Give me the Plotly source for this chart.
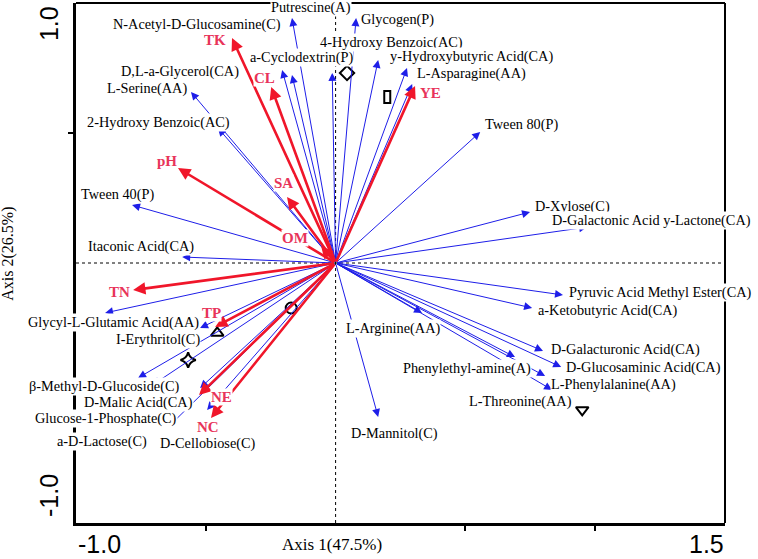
import plotly.graph_objects as go

# ---------------- data ----------------
# environmental factors (red vectors)
env_names = ["TK", "CL", "pH", "SA", "OM", "YE", "TN", "TP", "NE", "NC"]
env_x = [-0.399, -0.248, -0.607, -0.187, -0.056, 0.306, -0.780, -0.464, -0.526, -0.480]
env_y = [0.865, 0.677, 0.365, 0.254, 0.065, 0.681, -0.104, -0.246, -0.508, -0.596]

# carbon sources (blue vectors)
sp_names = [
    "Putrescine(A)", "Glycogen(P)", "N-Acetyl-D-Glucosamine(C)", "D,L-a-Glycerol(CA)",
    "a-Cyclodextrin(P)", "4-Hydroxy Benzoic(AC)", "y-Hydroxybutyric Acid(CA)", "L-Asparagine(AA)",
    "L-Serine(AA)", "2-Hydroxy Benzoic(AC)", "Tween 40(P)", "Itaconic Acid(CA)",
    "Tween 80(P)", "D-Xylose(C)", "D-Galactonic Acid y-Lactone(CA)", "Pyruvic Acid Methyl Ester(CA)",
    "a-Ketobutyric Acid(CA)", "D-Galacturonic Acid(CA)", "D-Glucosaminic Acid(CA)", "L-Phenylalanine(AA)",
    "L-Threonine(AA)", "Phenylethyl-amine(A)", "L-Arginine(AA)", "D-Mannitol(C)",
    "Glycyl-L-Glutamic Acid(AA)", "I-Erythritol(C)", "β-Methyl-D-Glucoside(C)", "D-Malic Acid(CA)",
    "Glucose-1-Phosphate(C)", "a-D-Lactose(C)", "D-Cellobiose(C)",
]
sp_x = [-0.168, 0.079, -0.206, -0.168, -0.013, 0.164, 0.275, 0.295,
        -0.557, -0.453, -0.784, -0.591, 0.557, 0.749, 0.969, 0.876,
        0.757, 0.799, 0.869, 0.807, 0.834, 0.691, 0.333, 0.164,
        -0.888, -0.522, -0.761, -0.522, -0.705, -0.645, -0.495]
sp_y = [0.942, 0.942, 0.742, 0.723, 0.731, 0.781, 0.750, 0.688,
        0.658, 0.519, 0.223, 0.023, 0.504, 0.196, 0.138, -0.123,
        -0.173, -0.338, -0.400, -0.435, -0.488, -0.362, -0.192, -0.592,
        -0.192, -0.250, -0.442, -0.481, -0.469, -0.631, -0.565]

# sample sites
site_x = [0.044, 0.950, -0.171, -0.456, -0.568]
site_y = [0.731, -0.565, -0.173, -0.269, -0.373]
site_symbols = ["diamond-open", "triangle-down-open", "circle-open", "triangle-up-open", "star-diamond-open"]
rect_site_x = [0.199]
rect_site_y = [0.638]

# label placements (data units)
env_lab_x = [-0.464, -0.272, -0.649, -0.202, -0.156, 0.364, -0.834, -0.479, -0.441, -0.491]
env_lab_y = [0.858, 0.712, 0.392, 0.308, 0.096, 0.654, -0.112, -0.192, -0.515, -0.631]
sp_lab_x = [-0.094, 0.237, -0.534, -0.599, -0.133, 0.214, 0.522, 0.522,
            -0.726, -0.684, -0.842, -0.749, 0.715, 0.911, 1.215, 1.250,
            1.050, 1.115, 1.185, 1.069, 0.711, 0.507, 0.221, 0.225,
            -0.857, -0.684, -0.892, -0.761, -0.884, -0.899, -0.491]
sp_lab_y = [0.981, 0.938, 0.919, 0.738, 0.792, 0.850, 0.796, 0.727,
            0.673, 0.542, 0.262, 0.062, 0.531, 0.219, 0.165, -0.115,
            -0.181, -0.333, -0.400, -0.468, -0.531, -0.404, -0.250, -0.654,
            -0.227, -0.296, -0.475, -0.535, -0.598, -0.688, -0.696]

x_title = "Axis 1(47.5%)"
y_title = "Axis 2(26.5%)"

# ---------------- styles ----------------
BLUE = "rgb(30,30,232)"
RED = "rgb(240,22,42)"
RED_TXT = "rgb(232,52,90)"
SERIF = "Liberation Serif"
SANS = "Liberation Sans"

fig = go.Figure()

fig.add_trace(go.Scatter(
    x=site_x, y=site_y, mode="markers",
    marker=dict(symbol=site_symbols, size=11, color="black",
                line=dict(color="black", width=2)),
    hoverinfo="skip", showlegend=False, cliponaxis=False,
))

ann = []
# blue arrows
for x, y in zip(sp_x, sp_y):
    ann.append(dict(x=x, y=y, ax=0, ay=0, xref="x", yref="y", axref="x", ayref="y",
                    text="", showarrow=True, arrowhead=2, arrowsize=1.6, arrowwidth=1,
                    arrowcolor=BLUE, standoff=0, startstandoff=0))
# red arrows
for x, y in zip(env_x, env_y):
    ann.append(dict(x=x, y=y, ax=0, ay=0, xref="x", yref="y", axref="x", ayref="y",
                    text="", showarrow=True, arrowhead=2, arrowsize=0.95, arrowwidth=2.6,
                    arrowcolor=RED, standoff=0, startstandoff=0))
# labels
for name, x, y in zip(sp_names, sp_lab_x, sp_lab_y):
    ann.append(dict(x=x, y=y, xref="x", yref="y", text=name, showarrow=False,
                    font=dict(family=SERIF, size=14.3, color="black"),
                    bgcolor="white", borderpad=0, xanchor="center", yanchor="middle"))
for name, x, y in zip(env_names, env_lab_x, env_lab_y):
    ann.append(dict(x=x, y=y, xref="x", yref="y", text="<b>%s</b>" % name, showarrow=False,
                    font=dict(family=SERIF, size=15, color=RED_TXT),
                    bgcolor="white", borderpad=0, xanchor="center", yanchor="middle"))

# tick labels at the axis ends
TICKFONT = dict(family=SANS, size=25, color="black")
ann.append(dict(x=-0.911, y=-0.040, xref="x", yref="paper", text="-1.0", showarrow=False,
                font=TICKFONT, xanchor="center", yanchor="middle"))
ann.append(dict(x=1.427, y=-0.040, xref="x", yref="paper", text="1.5", showarrow=False,
                font=TICKFONT, xanchor="center", yanchor="middle"))
ann.append(dict(x=-0.0416, y=0.919, xref="paper", yref="y", text="1.0", showarrow=False, textangle=-90,
                font=TICKFONT, xanchor="center", yanchor="middle"))
ann.append(dict(x=-0.0416, y=-0.896, xref="paper", yref="y", text="-1.0", showarrow=False, textangle=-90,
                font=TICKFONT, xanchor="center", yanchor="middle"))
# axis titles
ann.append(dict(x=-0.013, y=-0.042, xref="x", yref="paper", text=x_title, showarrow=False,
                font=dict(family=SERIF, size=17, color="black"), xanchor="center", yanchor="middle"))
ann.append(dict(x=-0.105, y=0.035, xref="paper", yref="y", text=y_title, showarrow=False, textangle=-90,
                font=dict(family=SERIF, size=16, color="black"), xanchor="center", yanchor="middle"))

shapes = [
    dict(type="line", xref="x", yref="y", x0=0, x1=0, y0=-1, y1=1,
         line=dict(color="black", width=1, dash="3px,3px"), layer="below"),
    dict(type="line", xref="x", yref="y", x0=-1, x1=1.5, y0=0, y1=0,
         line=dict(color="black", width=1, dash="3px,3px"), layer="below"),
    dict(type="line", xref="paper", yref="paper", x0=0, x1=1, y0=1, y1=1,
         line=dict(color="black", width=2)),
    dict(type="line", xref="paper", yref="paper", x0=1, x1=1, y0=0, y1=1,
         line=dict(color="black", width=2)),
]
for x, y in zip(rect_site_x, rect_site_y):
    shapes.append(dict(type="rect", xref="x", yref="y", xsizemode="pixel", ysizemode="pixel",
                       xanchor=x, yanchor=y, x0=-3, x1=3, y0=-6, y1=6,
                       line=dict(color="black", width=2)))

fig.update_layout(
    width=758, height=559,
    margin=dict(l=76, r=33, t=3, b=36),
    paper_bgcolor="white", plot_bgcolor="white",
    showlegend=False,
    annotations=ann, shapes=shapes,
    xaxis=dict(range=[-1.0, 1.5], showgrid=False, zeroline=False, showline=True,
               linecolor="black", linewidth=3, ticks="outside", ticklen=5, tickwidth=2,
               tickcolor="black", tickvals=[-0.5, 0.5, 1.0], showticklabels=False),
    yaxis=dict(range=[-1.0, 1.0], showgrid=False, zeroline=False, showline=True,
               linecolor="black", linewidth=3, ticks="outside", ticklen=5, tickwidth=2,
               tickcolor="black", tickvals=[-0.5, 0.5], showticklabels=False),
)

fig.write_html("out.html", config={"displayModeBar": False},
               post_script="document.body.style.margin='0';document.body.style.overflow='hidden';")
